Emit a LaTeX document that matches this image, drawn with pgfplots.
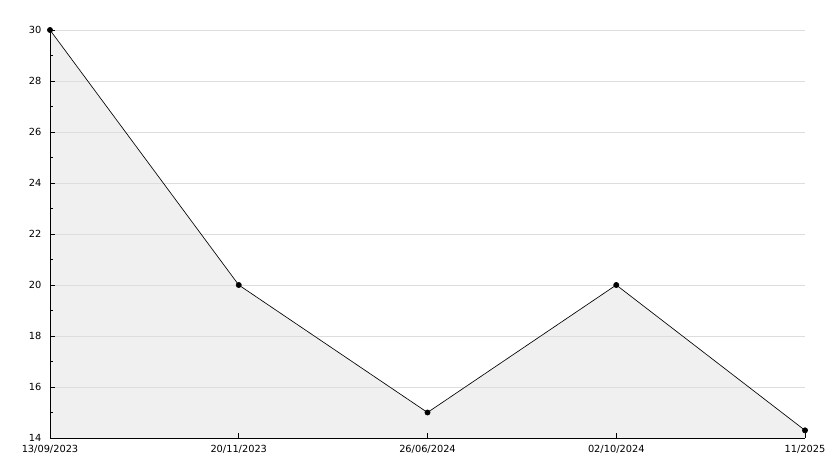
\documentclass[border=0pt]{standalone}
\usepackage{fontspec}
\setmainfont{DejaVu Sans}
\usepackage{pgfplots}
\pgfplotsset{compat=1.18}
\definecolor{fillgray}{HTML}{F0F0F0}
\definecolor{gridgray}{HTML}{DDDDDD}
\pgfplotsset{
  layers/fillunder/.define layer set={axis background,axis grid,pre main,axis ticks,axis lines,main,axis tick labels,axis descriptions,axis foreground}{},
}
\begin{document}
\begin{tikzpicture}[x=1pt,y=1pt]
\begin{axis}[
  set layers=fillunder,
  at={(0,0)},anchor=south west,
  scale only axis,width=755pt,height=408pt,
  xmin=0,xmax=4,ymin=14,ymax=30,
  axis x line*=bottom,axis y line*=left,
  axis line style={black,line width=0.9pt},
  xtick={0,1,2,3,4},
  xticklabels={13/09/2023,20/11/2023,26/06/2024,02/10/2024,11/2025},
  ytick={14,16,...,30},
  minor y tick num=1,
  tick align=inside,
  major tick length=5pt,minor tick length=3pt,
  tick style={black,line width=0.8pt},
  ymajorgrids,
  major grid style={gridgray,line width=0.7pt},
  /pgf/number format/assume math mode=true,
  tick label style={font=\fontsize{9.8}{11}\selectfont},
  xticklabel style={yshift=-4pt},
  yticklabel style={xshift=-5pt},
  clip=false,
]
\addplot[on layer=pre main,draw=none,fill=fillgray] coordinates {(0,30)(1,20)(2,15)(3,20)(4,14.3)} \closedcycle;
\addplot[black,line width=0.65pt,mark=*,mark size=2.6pt] coordinates {(0,30)(1,20)(2,15)(3,20)(4,14.3)};
\end{axis}
\path[use as bounding box] (-50,-30) rectangle (784,438);
\end{tikzpicture}
\end{document}
